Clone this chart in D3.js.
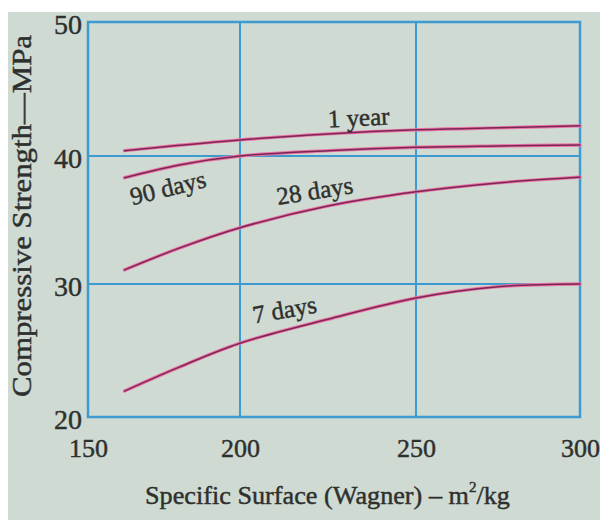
<!DOCTYPE html>
<html>
<head>
<meta charset="utf-8">
<script src="https://cdn.jsdelivr.net/npm/d3@7/dist/d3.min.js"></script>
<style>
  html, body { margin: 0; padding: 0; background: #ffffff; }
  svg { display: block; }
  text { font-family: "Liberation Serif", "DejaVu Serif", serif; fill: #2e302e; stroke: #2e302e; stroke-width: 0.45px; }
</style>
</head>
<body>
<svg id="chart" width="600" height="520"></svg>
<script>
// ---- data ----
const surface = [162, 180, 200, 225, 250, 275, 300];          // m2/kg
const oneYear = [40.4, 40.8, 41.2, 41.65, 41.95, 42.1, 42.25];
const days90  = [38.3, 39.3, 40.0, 40.4, 40.65, 40.75, 40.82];
const days28  = [31.1, 32.8, 34.4, 36.1, 37.2, 37.9, 38.35];
const days7   = [21.95, 23.75, 25.55, 27.35, 28.95, 29.8, 30.0];
const seriesNames = ["1 year", "90 days", "28 days", "7 days"];
const xTicks = [150, 200, 250, 300];
const yTicks = [20, 30, 40, 50];
const xTitle = "Specific Surface (Wagner) \u2013 m";
const yTitle = "Compressive Strength\u2014MPa";

const svg = d3.select("#chart");

// background panel (photo-like)
svg.append("rect").attr("x", 8).attr("y", 12).attr("width", 592).attr("height", 508)
  .attr("fill", "#cfdad2");

// scales (hand-drawn figure: grid positions not evenly spaced)
const x = d3.scaleLinear().domain(xTicks).range([88, 240, 416, 580]);
const y = d3.scaleLinear().domain(yTicks).range([417, 284, 156, 22]);

const gridColor = "#3d9bd0";

// gridlines
const g = svg.append("g");
g.selectAll("line.vx").data(xTicks.slice(1, -1)).join("line")
  .attr("x1", d => x(d)).attr("x2", d => x(d))
  .attr("y1", y(50)).attr("y2", y(20))
  .attr("stroke", gridColor).attr("stroke-width", 2);
g.selectAll("line.hy").data(yTicks.slice(1, -1)).join("line")
  .attr("y1", d => y(d)).attr("y2", d => y(d))
  .attr("x1", x(150)).attr("x2", x(300))
  .attr("stroke", gridColor).attr("stroke-width", 2);
// frame
g.append("rect").attr("x", x(150)).attr("y", y(50))
  .attr("width", x(300) - x(150)).attr("height", y(20) - y(50))
  .attr("fill", "none").attr("stroke", gridColor).attr("stroke-width", 2.5);

// axes via d3 (only labels shown)
const xAxis = svg.append("g").attr("transform", `translate(0,${y(20)})`)
  .call(d3.axisBottom(x).tickValues(xTicks).tickSize(0).tickPadding(0).tickFormat(d3.format("d")));
xAxis.select(".domain").remove();
xAxis.selectAll("text").attr("y", 40).attr("dy", 0)
  .style("font-size", "26px").style("font-family", "Liberation Serif")
  .attr("fill", "#2e302e").attr("stroke", "#2e302e").attr("stroke-width", 0.45);

const yAxis = svg.append("g").attr("transform", `translate(${x(150)},0)`)
  .call(d3.axisLeft(y).tickValues(yTicks).tickSize(0).tickPadding(6).tickFormat(d3.format("d")));
yAxis.select(".domain").remove();
yAxis.selectAll("text").attr("dy", "0.42em")
  .style("font-size", "28px").style("font-family", "Liberation Serif")
  .attr("fill", "#2e302e").attr("stroke", "#2e302e").attr("stroke-width", 0.45);

// curves
const allSeries = [oneYear, days90, days28, days7];
const line = d3.line().x((d, i) => x(surface[i])).y(d => y(d)).curve(d3.curveCatmullRom.alpha(0.5));
const curves = svg.append("g");
allSeries.forEach(s => {
  curves.append("path").attr("d", line(s)).attr("fill", "none")
    .attr("stroke", "#ec74a4").attr("stroke-width", 3.4).attr("stroke-linecap", "round");
  curves.append("path").attr("d", line(s)).attr("fill", "none")
    .attr("stroke", "#7a2656").attr("stroke-width", 1.5).attr("stroke-linecap", "round");
});

// curve labels
const labelPos = [
  { cx: 359, cy: 126, rot: -3 },
  { cx: 170, cy: 196, rot: -14 },
  { cx: 316, cy: 199, rot: -9 },
  { cx: 286, cy: 318, rot: -10 }
];
seriesNames.forEach((name, i) => {
  const p = labelPos[i];
  svg.append("text").text(name)
    .attr("transform", `translate(${p.cx},${p.cy}) rotate(${p.rot})`)
    .attr("text-anchor", "middle").style("font-size", "25px");
});

// axis titles
const xt = svg.append("text").attr("x", 145).attr("y", 504).style("font-size", "26px")
  .attr("textLength", 365).attr("lengthAdjust", "spacingAndGlyphs");
xt.append("tspan").text(xTitle);
xt.append("tspan").text("2").attr("dy", -12).style("font-size", "15px");
xt.append("tspan").text("/kg").attr("dy", 12);

svg.append("text").text(yTitle)
  .attr("transform", "translate(31,216) rotate(-90)")
  .attr("text-anchor", "middle").style("font-size", "28px")
  .attr("textLength", 362).attr("lengthAdjust", "spacingAndGlyphs");
</script>
</body>
</html>
